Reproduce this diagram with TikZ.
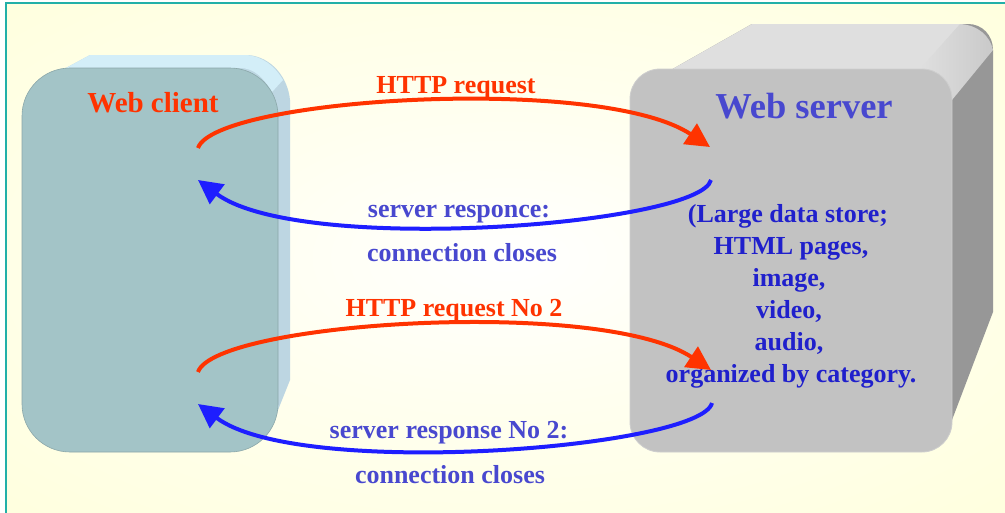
\documentclass[tikz,border=0pt]{standalone}
\usepackage{fontspec}
\setmainfont{Liberation Serif}
\usetikzlibrary{arrows.meta}

\definecolor{bgyellow}{HTML}{FFFFD9}
\definecolor{framecol}{HTML}{22B0A8}
\definecolor{clfront}{HTML}{A3C4C7}
\definecolor{cltop}{HTML}{D3EEF8}
\definecolor{clside}{HTML}{BDD6E2}
\definecolor{svfront}{HTML}{C2C2C2}
\definecolor{svtop}{HTML}{DFDFDF}
\definecolor{svside}{HTML}{979797}
\definecolor{reqred}{HTML}{FF3300}
\definecolor{resblue}{HTML}{1E1EFF}
\definecolor{lblblue}{HTML}{4848CF}
\definecolor{listblue}{HTML}{2020CC}

\pgfdeclareradialshading{bgglow}{\pgfpoint{0bp}{0bp}}{%
  color(0bp)=(white); color(14bp)=(white!60!bgyellow);
  color(42bp)=(bgyellow); color(60bp)=(bgyellow)}

\begin{document}
\begin{tikzpicture}[x=1pt,y=-1pt,
  reqarrow/.style={draw=reqred, line width=4pt, -{Triangle[length=24pt,width=24pt]}},
  resarrow/.style={draw=resblue, line width=4pt, -{Triangle[length=24pt,width=24pt]}},
  lbl/.style={font=\fontsize{26}{32}\selectfont\bfseries, anchor=base, inner sep=0pt},
  reqlbl/.style={lbl, text=reqred},
  reslbl/.style={lbl, text=lblblue},
  listlbl/.style={lbl, text=listblue}]

\useasboundingbox (0,0) rectangle (1005,512);
\clip (0,0) rectangle (1005,512);

% page background and frame
\fill[white] (0,0) rectangle (1005,512);
\shade[shading=bgglow] (6,3) rectangle (1005,512);
\draw[framecol, line width=2pt] (6,520) -- (6,3) -- (1010,3);

% ---- client block ----
\fill[clside] (40,82) -- (90,55) -- (248,55)
  .. controls (272,57) and (288,78) .. (290,100)
  -- (290,380) -- (272,425) -- (200,440) -- (40,200) -- cycle;
\fill[cltop] (40,82) -- (90,55) -- (246,55)
  .. controls (262,56) and (275,66) .. (283,80)
  -- (272,92) .. controls (264,78) and (254,68) .. (240,68) -- cycle;
\fill[clfront, draw=clfront!85!black, line width=0.6pt, rounded corners=48pt]
  (22,68) rectangle (278,452);
\node (client) [font=\fontsize{29}{34}\selectfont\bfseries, text=reqred,
  anchor=base, inner sep=0pt] at (153,112) {Web client};

% ---- server block ----
\fill[svside] (632,92) -- (752,24) -- (968,24)
  .. controls (982,24) and (993,35) .. (993,50)
  -- (993,312) -- (952,420) -- (900,440) -- (640,300) -- cycle;
\fill[svtop] (632,92) -- (752,24) -- (962,24) -- (938,72) -- (920,69) -- (640,80) -- cycle;
\shade[left color=svtop, right color=svtop!70!svside]
  (960,24) .. controls (978,25) and (990,36) .. (993,50)
  -- (952,100) .. controls (948,85) and (935,72) .. (920,69) -- cycle;
\fill[svfront, draw=svfront!80!white, line width=0.8pt, rounded corners=30pt]
  (630,69) rectangle (952,452);
\node (server) [font=\fontsize{36.5}{42}\selectfont\bfseries, text=lblblue,
  anchor=base, inner sep=0pt] at (804,118) {Web server};

\node (store1) [listlbl] at (788,222) {(Large data store;};
\node (store2) [listlbl] at (791,254) {HTML pages,};
\node (store3) [listlbl] at (789,286) {image,};
\node (store4) [listlbl] at (789,318) {video,};
\node (store5) [listlbl] at (789,350) {audio,};
\node (store6) [listlbl] at (791,382) {organized by category.};

% ---- connector end points ----
\coordinate (cli-out1) at (198,148);
\coordinate (srv-in1)  at (710,147);
\coordinate (srv-out1) at (711,180);
\coordinate (cli-in1)  at (198,180);
\coordinate (cli-out2) at (198,372);
\coordinate (srv-in2)  at (711,370);
\coordinate (srv-out2) at (712,403);
\coordinate (cli-in2)  at (198,404);

% ---- first exchange ----
\draw[reqarrow] (cli-out1) .. controls +(17,-50) and +(-110,-73) .. (srv-in1);
\draw[resarrow] (srv-out1) .. controls +(-11,45) and +(102,76) .. (cli-in1);
\node (req1) [reqlbl] at (456,93) {HTTP request};
\node (res1a) [reslbl] at (459,217) {server responce:};
\node (res1b) [reslbl] at (462,261) {connection closes};

% ---- second exchange ----
\draw[reqarrow] (cli-out2) .. controls +(17,-50) and +(-110,-73) .. (srv-in2);
\draw[resarrow] (srv-out2) .. controls +(-11,45) and +(102,76) .. (cli-in2);
\node (req2) [reqlbl] at (454,316) {HTTP request No 2};
\node (res2a) [reslbl] at (449,438) {server response No 2:};
\node (res2b) [reslbl] at (450,483) {connection closes};

\end{tikzpicture}
\end{document}
